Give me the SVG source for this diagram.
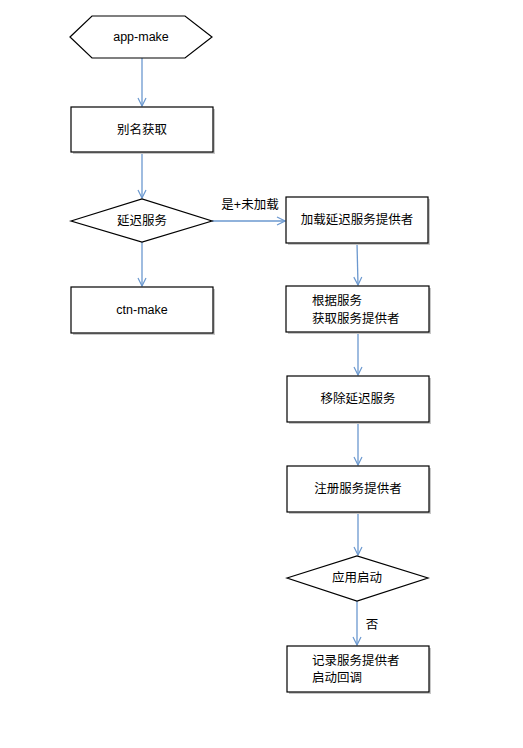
<svg xmlns="http://www.w3.org/2000/svg" width="523" height="748" viewBox="0 0 523 748">
<style>
.shape{fill:#ffffff;stroke:#000000;stroke-width:1.2}
.shadow{fill:#c8c8c8;stroke:none}
.t{font-family:"Liberation Sans","Noto Sans CJK SC",sans-serif;font-size:12.5px;fill:#000000}
.c{text-anchor:middle;dominant-baseline:central}
.l{dominant-baseline:central}
.conn{stroke:#6b98cf;stroke-width:1.3;fill:none;marker-end:url(#arr)}
</style>
<defs>
<marker id="arr" viewBox="0 0 10 10" refX="9" refY="5" markerWidth="10" markerHeight="10" markerUnits="userSpaceOnUse" orient="auto">
<path d="M1,1 L9,5 L1,9" fill="none" stroke="#6b98cf" stroke-width="1.2"/>
</marker>
</defs>
<rect width="523" height="748" fill="#ffffff"/>
<g id="connectors">
<line class="conn" x1="142" y1="58" x2="142" y2="106"/>
<line class="conn" x1="142" y1="152" x2="142" y2="198"/>
<line class="conn" x1="212" y1="221" x2="285" y2="221"/>
<line class="conn" x1="142" y1="242" x2="142" y2="286"/>
<line class="conn" x1="357" y1="243" x2="358" y2="285"/>
<line class="conn" x1="358" y1="332" x2="358" y2="375"/>
<line class="conn" x1="358" y1="422" x2="358" y2="465"/>
<line class="conn" x1="358" y1="512" x2="358" y2="555"/>
<line class="conn" x1="357" y1="601" x2="357" y2="645"/>
<text class="t c" x="250" y="205">是+未加载</text>
<text class="t c" x="372" y="625">否</text>
</g>
<g id="n-app-make">
<polygon class="shape" points="70,37 92,16 185,16 212,37 185,58 92,58"/>
<text class="t c" x="141" y="37">app-make</text>
</g>
<g id="n-alias">
<rect class="shadow" x="73" y="109" width="142" height="45"/>
<rect class="shape" x="71" y="107" width="142" height="45"/>
<text class="t c" x="142" y="129.5">别名获取</text>
</g>
<g id="n-deferred">
<polygon class="shape" points="71,221 142,199 212,221 142,242"/>
<text class="t c" x="142" y="221">延迟服务</text>
</g>
<g id="n-ctn-make">
<rect class="shadow" x="73" y="289" width="142" height="46"/>
<rect class="shape" x="71" y="287" width="142" height="46"/>
<text class="t c" x="142" y="310">ctn-make</text>
</g>
<g id="n-load">
<rect class="shadow" x="288" y="199" width="142" height="46"/>
<rect class="shape" x="286" y="197" width="142" height="46"/>
<text class="t c" x="357" y="220">加载延迟服务提供者</text>
</g>
<g id="n-get">
<rect class="shadow" x="288" y="288" width="143" height="46"/>
<rect class="shape" x="286" y="286" width="143" height="46"/>
<text class="t l" x="312" y="301">根据服务</text>
<text class="t l" x="312" y="319">获取服务提供者</text>
</g>
<g id="n-remove">
<rect class="shadow" x="289" y="378" width="142" height="46"/>
<rect class="shape" x="287" y="376" width="142" height="46"/>
<text class="t c" x="358" y="399">移除延迟服务</text>
</g>
<g id="n-register">
<rect class="shadow" x="289" y="468" width="142" height="46"/>
<rect class="shape" x="287" y="466" width="142" height="46"/>
<text class="t c" x="358" y="489">注册服务提供者</text>
</g>
<g id="n-booted">
<polygon class="shape" points="287,578 357,556 428,578 357,601"/>
<text class="t c" x="357" y="578">应用启动</text>
</g>
<g id="n-record">
<rect class="shadow" x="289" y="648" width="142" height="46"/>
<rect class="shape" x="287" y="646" width="142" height="46"/>
<text class="t l" x="312" y="661">记录服务提供者</text>
<text class="t l" x="312" y="678">启动回调</text>
</g>
</svg>
